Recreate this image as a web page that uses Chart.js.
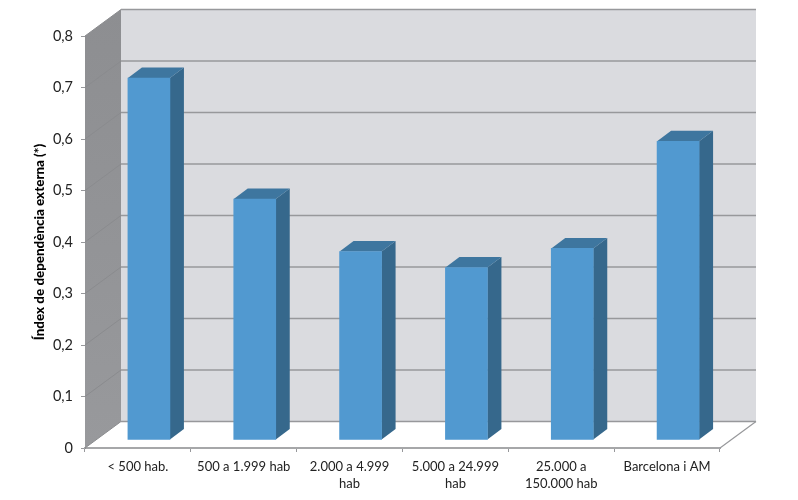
<!DOCTYPE html>
<html><head><meta charset="utf-8">
<style>html,body{margin:0;padding:0;background:#fff}canvas{display:block}</style>
<script src="https://cdn.jsdelivr.net/npm/chart.js@4"></script></head>
<body><canvas id="c" width="798" height="500"></canvas>
<script>
const categories = ["< 500 hab.", "500 a 1.999 hab", ["2.000 a 4.999","hab"], ["5.000 a 24.999","hab"], ["25.000 a","150.000 hab"], "Barcelona i AM"];
const values = [0.703, 0.468, 0.366, 0.335, 0.372, 0.58];
const yTitle = "Índex de dependència externa (*)";
const wallDX = 36, wallDY = -26.5, barDX = 11, barDY = -8, sideDX = 14, sideDY = -10.5;
const FONT = "Lato";

function poly(ctx, pts, fill){
  ctx.beginPath(); pts.forEach((p,i)=> i?ctx.lineTo(p[0],p[1]):ctx.moveTo(p[0],p[1])); ctx.closePath();
  ctx.fillStyle = fill; ctx.fill();
}
const plugin3d = {
  id:'plugin3d',
  beforeDatasetsDraw(chart){
    const {ctx, chartArea:a, scales:{y}} = chart;
    ctx.save();
    const L=a.left,R=a.right,T=a.top,B=a.bottom;
    poly(ctx,[[L+wallDX,T+wallDY],[R+wallDX,T+wallDY],[R+wallDX,B+wallDY],[L+wallDX,B+wallDY]],'#dadbdf');
    const g=ctx.createLinearGradient(0,T+wallDY,0,B);
    g.addColorStop(0,'#8d8e91'); g.addColorStop(1,'#98999c');
    poly(ctx,[[L,T],[L+wallDX,T+wallDY],[L+wallDX,B+wallDY],[L,B]],g);
    y.ticks.forEach(t=>{
      const py=y.getPixelForValue(t.value);
      ctx.strokeStyle='#8a8b8e'; ctx.lineWidth=1;
      ctx.beginPath(); ctx.moveTo(L,py); ctx.lineTo(L+wallDX,py+wallDY); ctx.stroke();
      ctx.strokeStyle='#97989b'; ctx.lineWidth=1.6;
      ctx.beginPath(); ctx.moveTo(L+wallDX,py+wallDY); ctx.lineTo(R+wallDX,py+wallDY); ctx.stroke();
    });
    ctx.strokeStyle='#97989b'; ctx.lineWidth=1.2;
    ctx.beginPath(); ctx.moveTo(R,B); ctx.lineTo(R+wallDX,B+wallDY); ctx.stroke();
    ctx.restore();
    ctx.save();
    ctx.translate(barDX,barDY);
    chart.getDatasetMeta(0).data.forEach(b=>{
      const l=b.x-b.width/2, r=b.x+b.width/2, t=b.y, bs=b.base;
      poly(ctx,[[r,t],[r+sideDX,t+sideDY],[r+sideDX,bs+sideDY],[r,bs]],'#36688c');
      poly(ctx,[[l,t],[l+sideDX,t+sideDY],[r+sideDX,t+sideDY],[r,t]],'#3e769f');
    });
  },
  afterDatasetsDraw(chart){ chart.ctx.restore(); }
};
new Chart(document.getElementById('c'),{
  type:'bar',
  data:{labels:categories,datasets:[{data:values,backgroundColor:'#5199d0',borderWidth:0,barThickness:42}]},
  plugins:[plugin3d],
  options:{
    responsive:false,animation:false,
    layout:{padding:{left:32,right:78,top:36,bottom:0}},
    plugins:{legend:{display:false},tooltip:{enabled:false}},
    scales:{
      x:{
        offset:true,
        afterFit(s){s.height=52;},
        grid:{drawOnChartArea:false,drawTicks:true,tickLength:4,color:'#97989b',offset:true},
        border:{color:'#a6a7a9',width:2},
        ticks:{color:'#222',font:{family:FONT,size:13,lineHeight:1.3},maxRotation:0,autoSkip:false,padding:6}
      },
      y:{
        min:0,max:0.8,
        afterFit(s){s.width=53;},
        grid:{drawOnChartArea:false,drawTicks:true,tickLength:4,color:'#97989b'},
        border:{color:'#8d8e91',width:1},
        ticks:{stepSize:0.1,color:'#222',padding:8,font:{family:FONT,size:14.5},callback:v=>v===0?'0':v.toFixed(1).replace('.',',')},
        title:{display:true,text:yTitle,color:'#000',font:{family:FONT,size:13.4,weight:'900'},padding:{top:0,bottom:0}}
      }
    }
  }
});
</script></body></html>
